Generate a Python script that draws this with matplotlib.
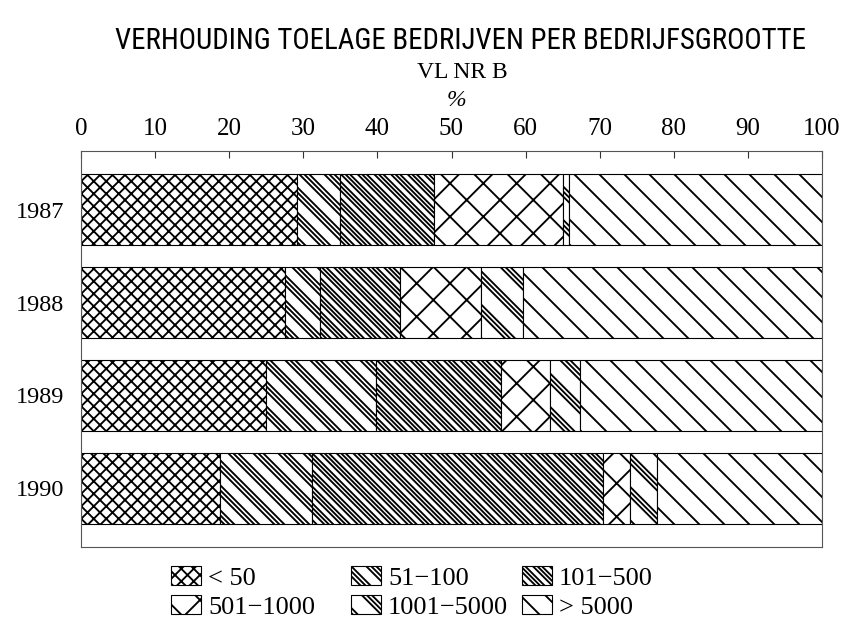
import warnings
warnings.filterwarnings('ignore')
import logging
logging.getLogger('matplotlib.font_manager').setLevel(logging.ERROR)
import numpy as np
import matplotlib
matplotlib.use('Agg')
import matplotlib.pyplot as plt
import matplotlib.hatch as mhatch
from matplotlib.patches import Patch

# ---------------- data ----------------
years = ['1987', '1988', '1989', '1990']
categories = ['< 50', '51\u2212100', '101\u2212500', '501\u22121000', '1001\u22125000', '> 5000']
lt50 = [29.1, 27.5, 25.0, 18.8]
s51_100 = [5.8, 4.7, 14.8, 12.4]
s101_500 = [12.8, 10.8, 16.9, 39.2]
s501_1000 = [17.4, 11.0, 6.6, 3.7]
s1001_5000 = [0.8, 5.6, 4.1, 3.7]
gt5000 = [34.1, 40.4, 32.6, 22.2]
xticks = [0, 10, 20, 30, 40, 50, 60, 70, 80, 90, 100]

# ---------------- hatch styles ----------------
# each key: list of (direction, groups per tile, offsets inside a group)
HATCH_SPECS = {
    'a': [('\\', 8, [0.0]), ('/', 8, [0.0])],
    'b': [('\\', 4, [0.0, 0.05, 0.10])],
    'c': [('\\', 6, [0.0, 0.045, 0.09])],
    'd': [('\\', 3, [0.0]), ('/', 3, [0.0])],
    'e': [('\\', 3, [0.0, 0.05, 0.10])],
    'f': [('\\', 4, [0.0])],
}
hatch_keys = ['a', 'b', 'c', 'd', 'e', 'f']


class GroupedHatch(mhatch.HatchPatternBase):
    def __init__(self, hatch, density):
        self.lines = []
        if hatch:
            for ch in sorted(set(hatch)):
                for direction, m, offsets in HATCH_SPECS.get(ch, []):
                    for k in range(-m - 1, 2 * m + 2):
                        for off in offsets:
                            self.lines.append((direction, k / m + off))
        self.num_vertices = 2 * len(self.lines)

    def set_vertices_and_codes(self, vertices, codes):
        from matplotlib.path import Path
        for i, (d, c) in enumerate(self.lines):
            if d == '\\':
                vertices[2 * i] = (-0.5, c + 0.5)
                vertices[2 * i + 1] = (1.5, c - 1.5)
            else:
                cc = c - 1.0
                vertices[2 * i] = (-0.5, cc - 0.5)
                vertices[2 * i + 1] = (1.5, cc + 1.5)
            codes[2 * i] = Path.MOVETO
            codes[2 * i + 1] = Path.LINETO


mhatch._hatch_types.append(GroupedHatch)

plt.rcParams['hatch.linewidth'] = 1.35
plt.rcParams['hatch.color'] = 'black'

SERIF = ['Liberation Serif', 'DejaVu Serif']
NARROW = ['Liberation Sans Narrow', 'Noto Sans Condensed', 'DejaVu Sans Condensed',
          'Roboto Condensed', 'Liberation Sans', 'DejaVu Sans']

W, H = 849, 628
fig = plt.figure(figsize=(W / 100, H / 100), dpi=100)
fig.patch.set_facecolor('white')
ax = fig.add_axes([81 / W, 1 - 547 / H, (822 - 81) / W, (547 - 151) / H])

series = [lt50, s51_100, s101_500, s501_1000, s1001_5000, gt5000]
ypos = np.arange(len(years))
left = np.zeros(len(years))
handles = []
for vals, hk, lab in zip(series, hatch_keys, categories):
    ax.barh(ypos, vals, left=left, height=0.76, facecolor='white',
            edgecolor='black', linewidth=0.8, hatch=hk)
    left += np.array(vals)
    handles.append(Patch(facecolor='white', edgecolor='black', linewidth=0.8,
                         hatch=hk, label=lab))

ax.set_xlim(0, 100)
ax.set_ylim(3.63, -0.63)
ax.xaxis.tick_top()
ax.set_xticks(xticks)
ax.set_xticklabels([str(t) for t in xticks], fontfamily=SERIF, fontsize=18)
ax.tick_params(axis='x', direction='in', length=5, width=0.8, pad=8,
               colors='#333333', labelcolor='black')
ax.set_yticks(ypos)
ax.set_yticklabels(years, fontfamily=SERIF, fontsize=17.5)
ax.tick_params(axis='y', length=0, pad=12)
for s in ax.spines.values():
    s.set_color('#555555')
    s.set_linewidth(0.8)

title = fig.text(0.542, 1 - 41 / H, 'VERHOUDING TOELAGE BEDRIJVEN PER BEDRIJFSGROOTTE',
                 ha='center', va='center', fontfamily=NARROW, fontstretch='condensed',
                 fontsize=20)
fig.text(0.544, 1 - 72 / H, 'VL NR B', ha='center', va='center',
         fontfamily=SERIF, fontsize=17)
fig.text(0.538, 1 - 100 / H, '%', ha='center', va='center',
         fontfamily=SERIF, fontsize=17, style='italic')

# fit the title to the width it takes in the reference
fig.canvas.draw()
bb = title.get_window_extent()
target_w = 687.0
title.set_fontsize(min(22.0, title.get_fontsize() * target_w / bb.width))

# legend: three columns of two entries each
col_groups = [[0, 3], [1, 4], [2, 5]]
col_x = [171, 351, 522]
for idxs, cx in zip(col_groups, col_x):
    leg = fig.legend([handles[i] for i in idxs], [categories[i] for i in idxs],
                     loc='upper left', bbox_to_anchor=(cx / W, 1 - 566 / H),
                     frameon=False, prop={'family': SERIF, 'size': 19},
                     handlelength=1.15, handleheight=0.75, handletextpad=0.25,
                     labelspacing=0.2, borderpad=0, borderaxespad=0)

fig.savefig('out.png', dpi=100, facecolor='white')
